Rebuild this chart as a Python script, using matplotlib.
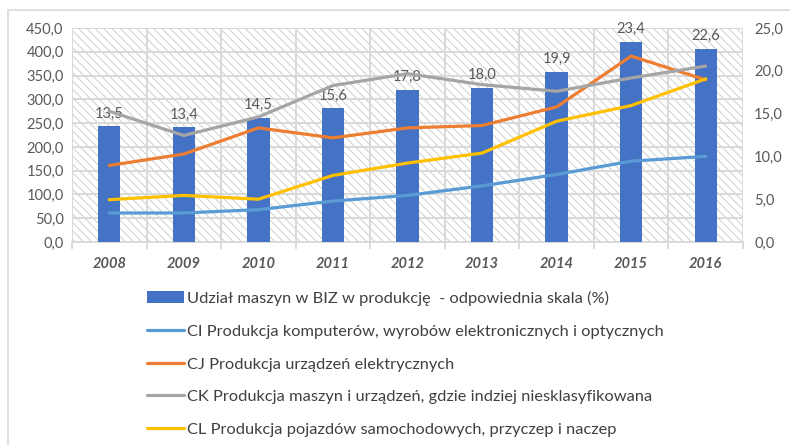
import numpy as np
import matplotlib
matplotlib.use("Agg")
import matplotlib.pyplot as plt
from matplotlib.patches import Rectangle
from matplotlib.ticker import FuncFormatter, MultipleLocator, FixedLocator

plt.rcParams['font.family'] = ['Lato', 'DejaVu Sans']
plt.rcParams['hatch.color'] = '#cfcfcf'
plt.rcParams['hatch.linewidth'] = 0.7

years = ['2008', '2009', '2010', '2011', '2012', '2013', '2014', '2015', '2016']
share_pct = [13.5, 13.4, 14.5, 15.6, 17.8, 18.0, 19.9, 23.4, 22.6]
ci_vals = [61, 61, 68, 86, 98, 118, 142, 170, 180]
cj_vals = [161, 185, 240, 219, 240, 245, 284, 391, 341]
ck_vals = [275, 224, 263, 329, 354, 331, 317, 345, 370]
cl_vals = [89, 98, 90, 140, 166, 187, 254, 287, 343]

labels = ['Udział maszyn w BIZ w produkcję  - odpowiednia skala (%)',
          'CI Produkcja komputerów, wyrobów elektronicznych i optycznych',
          'CJ Produkcja urządzeń elektrycznych',
          'CK Produkcja maszyn i urządzeń, gdzie indziej niesklasyfikowana',
          'CL Produkcja pojazdów samochodowych, przyczep i naczep']
line_colors = ['#5B9BD5', '#ED7D31', '#A5A5A5', '#FFC000']
txt = '#595959'
grid_c = '#d9d9d9'

comma = FuncFormatter(lambda v, p: f'{v:.1f}'.replace('.', ','))

fig = plt.figure(figsize=(7.9, 4.45), dpi=100)
fig.patches.append(Rectangle((8 / 790, -0.1), 1.2, 1 - 10 / 445 + 0.1,
                             transform=fig.transFigure, fill=False,
                             edgecolor='#d9d9d9', lw=1.2))

ax = fig.add_axes([0.0911, 0.4562, 0.8494, 0.4808])
x = np.arange(len(years))

# background: hatch + grid (left scale)
ax.add_patch(Rectangle((0, 0), 1, 1, transform=ax.transAxes, facecolor='white',
                       hatch='\\\\\\\\', edgecolor='#cfcfcf', lw=0, zorder=0))
ax.set_xlim(-0.5, len(years) - 0.5)
ax.set_ylim(0, 450)
ax.yaxis.set_major_locator(MultipleLocator(50))
ax.yaxis.set_major_formatter(comma)
ax.grid(axis='y', color=grid_c, lw=1.4, zorder=1)
ax.set_xticks(x)
ax.set_xticklabels(years, fontstyle='italic', fontweight='bold', color=txt, fontsize=10.5)
ax.xaxis.set_minor_locator(FixedLocator(np.arange(-0.5, len(years), 1)))
ax.grid(axis='x', which='minor', color=grid_c, lw=1.4)
ax.tick_params(axis='x', which='major', length=0, pad=11)
ax.tick_params(axis='x', which='minor', length=5, color=grid_c, width=1.4)
ax.tick_params(axis='y', length=0, labelcolor=txt, labelsize=10.5, pad=6)
for s in ['top', 'left', 'right']:
    ax.spines[s].set_visible(False)
ax.spines['bottom'].set_color(grid_c)
ax.spines['bottom'].set_linewidth(1.4)
ax.set_axisbelow(True)

# bars on right scale
axb = ax.twinx()
bars = axb.bar(x, share_pct, width=0.3, color='#4472C4', label=labels[0], zorder=2)
axb.set_ylim(0, 25)
axb.yaxis.set_major_locator(MultipleLocator(5))
axb.yaxis.set_major_formatter(comma)
axb.tick_params(axis='y', length=0, labelcolor=txt, labelsize=10.5, pad=8)
for s in axb.spines.values():
    s.set_visible(False)
for xi, v in zip(x, share_pct):
    axb.annotate(f'{v:.1f}'.replace('.', ','), (xi, v), xytext=(0, 4),
                 textcoords='offset points', ha='center', va='bottom',
                 color=txt, fontsize=10.5)

# lines on left scale, drawn on top
axl = ax.twinx()
axl.set_ylim(0, 450)
axl.set_yticks([])
for s in axl.spines.values():
    s.set_visible(False)
handles = [bars]
for vals, c, lab in zip([ci_vals, cj_vals, ck_vals, cl_vals], line_colors, labels[1:]):
    h, = axl.plot(x, vals, color=c, lw=2.3, label=lab, solid_capstyle='round')
    handles.append(h)

leg = fig.legend(handles, labels, loc='upper left', bbox_to_anchor=(147 / 790, 1 - 291 / 445),
                 frameon=False, ncol=1, fontsize=11.8, labelspacing=1.1,
                 handlelength=2.25, handleheight=0.75, handletextpad=0.2,
                 borderaxespad=0, borderpad=0)
for t in leg.get_texts():
    t.set_color('#404040')

fig.savefig('out.png', dpi=100)
